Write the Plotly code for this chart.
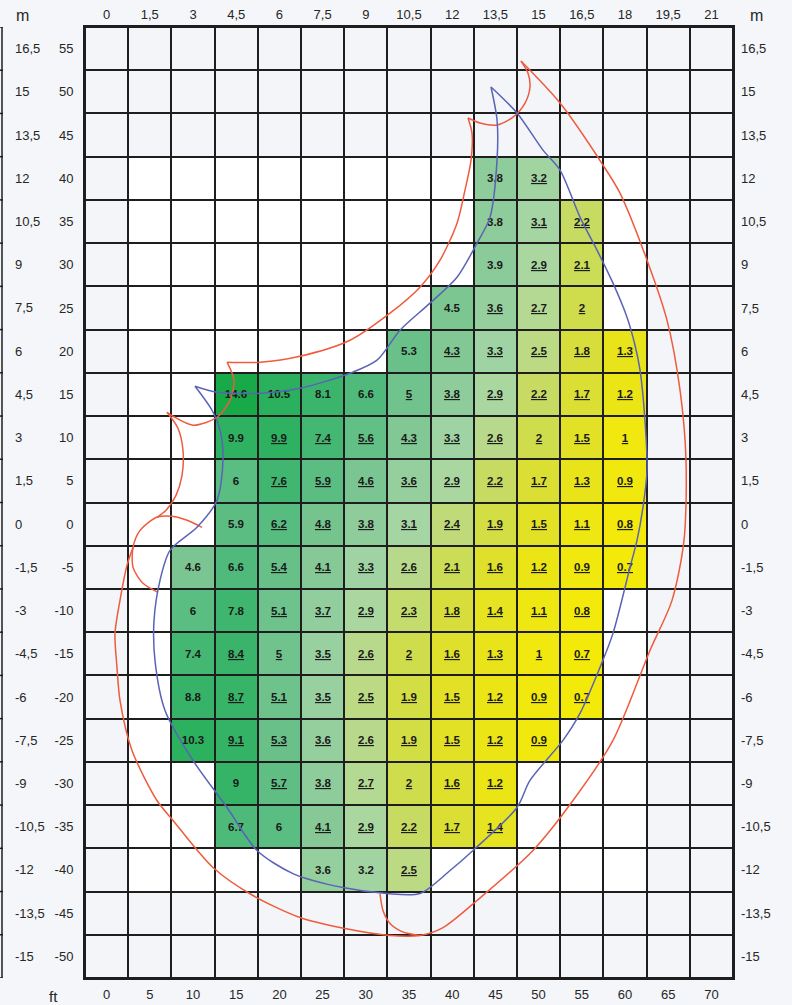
import plotly.graph_objects as go

# ---------------- data ----------------
ft_x = list(range(0, 75, 5))
m_x = ["0", "1,5", "3", "4,5", "6", "7,5", "9", "10,5", "12", "13,5", "15", "16,5", "18", "19,5", "21"]
ft_y = list(range(55, -55, -5))
m_y = ["16,5", "15", "13,5", "12", "10,5", "9", "7,5", "6", "4,5", "3", "1,5", "0",
       "-1,5", "-3", "-4,5", "-6", "-7,5", "-9", "-10,5", "-12", "-13,5", "-15"]

N = None
values = [
    [N] * 15,                                                              # 55
    [N] * 15,                                                              # 50
    [N] * 15,                                                              # 45
    [N] * 9 + [3.8, 3.2] + [N] * 4,                                        # 40
    [N] * 9 + [3.8, 3.1, 2.2] + [N] * 3,                                   # 35
    [N] * 9 + [3.9, 2.9, 2.1] + [N] * 3,                                   # 30
    [N] * 8 + [4.5, 3.6, 2.7, 2.0] + [N] * 3,                              # 25
    [N] * 7 + [5.3, 4.3, 3.3, 2.5, 1.8, 1.3] + [N] * 2,                    # 20
    [N] * 3 + [14.6, 10.5, 8.1, 6.6, 5.0, 3.8, 2.9, 2.2, 1.7, 1.2] + [N] * 2,  # 15
    [N] * 3 + [9.9, 9.9, 7.4, 5.6, 4.3, 3.3, 2.6, 2.0, 1.5, 1.0] + [N] * 2,    # 10
    [N] * 3 + [6.0, 7.6, 5.9, 4.6, 3.6, 2.9, 2.2, 1.7, 1.3, 0.9] + [N] * 2,    # 5
    [N] * 3 + [5.9, 6.2, 4.8, 3.8, 3.1, 2.4, 1.9, 1.5, 1.1, 0.8] + [N] * 2,    # 0
    [N] * 2 + [4.6, 6.6, 5.4, 4.1, 3.3, 2.6, 2.1, 1.6, 1.2, 0.9, 0.7] + [N] * 2,  # -5
    [N] * 2 + [6.0, 7.8, 5.1, 3.7, 2.9, 2.3, 1.8, 1.4, 1.1, 0.8] + [N] * 3,    # -10
    [N] * 2 + [7.4, 8.4, 5.0, 3.5, 2.6, 2.0, 1.6, 1.3, 1.0, 0.7] + [N] * 3,    # -15
    [N] * 2 + [8.8, 8.7, 5.1, 3.5, 2.5, 1.9, 1.5, 1.2, 0.9, 0.7] + [N] * 3,    # -20
    [N] * 2 + [10.3, 9.1, 5.3, 3.6, 2.6, 1.9, 1.5, 1.2, 0.9] + [N] * 4,        # -25
    [N] * 3 + [9.0, 5.7, 3.8, 2.7, 2.0, 1.6, 1.2] + [N] * 5,                  # -30
    [N] * 3 + [6.7, 6.0, 4.1, 2.9, 2.2, 1.7, 1.4] + [N] * 5,                  # -35
    [N] * 5 + [3.6, 3.2, 2.5] + [N] * 7,                                      # -40
    [N] * 15,                                                              # -45
    [N] * 15,                                                              # -50
]
# number of leading (non-underlined) values in each row
plain_count = {40: 1, 35: 1, 30: 1, 25: 1, 20: 1, 15: 4, 10: 1, 5: 1, 0: 1,
               -5: 2, -10: 2, -15: 1, -20: 1, -25: 1, -30: 1, -35: 2, -40: 2}

# colour scale (value -> colour)
scale_values = [0.7, 1.0, 1.3, 1.6, 2.0, 2.5, 2.9, 3.3, 3.8, 4.5, 5.5, 6.6, 8.0, 10.0, 14.6]
scale_colors = ["#f4ea0a", "#f0e80e", "#e9e41a", "#dfe02b", "#cfdc4c", "#bcda84", "#aad7a0",
                "#9fd3a3", "#8ecc9b", "#7cc692", "#64bf86", "#4fba7b", "#3cb56d", "#2db160", "#18aa48"]

# outlines (ft coordinates)
blue_outer = [(44.49, 50.56), (47.5, 47.55), (50.51, 43.26), (52.48, 40.95), (54.79, 35.51),
              (56.76, 31.69), (58.61, 27.87), (60.23, 23.94), (61.16, 20.69), (61.74, 17.80),
              (62.31, 12.01), (62.55, 6.23), (62.08, 1.94), (61.39, -1.88), (60.58, -5.0),
              (58.61, -12.64), (57.11, -16.57), (54.79, -21.90), (52.82, -25.02), (49.0, -29.65),
              (47.5, -32.78), (42.41, -37.75), (39.75, -40.07), (36.27, -42.73), (32.45, -42.73),
              (27.36, -42.04), (21.57, -40.42), (17.41, -37.75), (13.94, -32.78), (10.0, -27.34),
              (6.76, -21.55), (5.60, -15.76), (5.49, -11.13), (6.18, -6.50), (7.34, -3.03),
              (10.46, -0.37), (12.78, 2.75), (13.47, 7.38), (13.13, 10.86), (12.20, 13.17),
              (10.23, 15.95)]
blue_inner = [(10.23, 15.95), (12.78, 15.25), (17.75, 15.14), (22.38, 15.72), (28.17, 17.45),
              (31.30, 18.96), (33.96, 22.43), (37.43, 25.56), (40.56, 28.56), (42.87, 32.5),
              (44.38, 35.51), (45.19, 42.11), (45.19, 46.74), (44.49, 50.56)]

red_outer = [(47.96, 53.56), (52.48, 48.70), (57.45, 41.53), (59.42, 38.29), (62.55, 30.53),
             (64.86, 23.59), (66.37, 15.49), (67.06, 7.38), (66.83, -1.88), (65.44, -8.82),
             (62.89, -14.61), (58.61, -25.02), (53.98, -31.97), (49.35, -37.75), (42.87, -43.54),
             (38.94, -46.67), (36.27, -47.59), (32.80, -47.59), (27.59, -46.78), (22.38, -45.51),
             (16.94, -42.96), (12.31, -39.72), (7.69, -34.28), (5.83, -31.97), (2.94, -26.18),
             (1.55, -20.39), (1.20, -16.57), (0.97, -12.64), (1.55, -8.82), (2.36, -4.77),
             (3.06, -2.69)]
red_circle = [(11.04, -0.37), (9.31, 0.44), (7.57, 0.90), (5.83, 0.79), (3.87, -0.72),
              (3.06, -2.69), (3.06, -5.0), (4.21, -6.85), (5.95, -7.89)]
red_arc_a = [(6.99, 12.94), (8.26, 11.09), (8.84, 8.54), (8.73, 5.65), (8.03, 3.33),
             (6.88, 1.60), (5.83, 0.79)]
red_arc_b = [(6.99, 12.94), (7.69, 12.48), (10.0, 11.44), (12.78, 12.36), (14.28, 14.33),
             (14.75, 16.64), (13.94, 18.73)]
red_arc_c = [(13.94, 18.73), (17.75, 18.73), (22.38, 19.42), (28.17, 21.27), (32.80, 24.40),
             (36.27, 27.41), (38.59, 30.53), (40.56, 34.81), (41.48, 38.63), (42.18, 42.11),
             (42.29, 45.23), (41.83, 46.97)]
red_arc_d = [(41.83, 46.97), (43.22, 46.39), (45.19, 46.16), (47.04, 47.08), (48.43, 48.70),
             (49.0, 50.56), (48.77, 52.18), (47.96, 53.56)]
red_loop = [(31.64, -42.73), (31.99, -44.70), (32.80, -46.20), (34.19, -47.13), (36.27, -47.59)]

# ---------------- figure ----------------
W, H = 792, 1005
ML, MR, MT, MB = 85, 59, 27, 27
PW, PH = W - ML - MR, H - MT - MB
GRID = "#1e1e1e"
TXT = "#262626"
FONT = "Liberation Sans"
BG = "#f4f6f9"

zmin, zmax = scale_values[0], scale_values[-1]
colorscale = [[(v - zmin) / (zmax - zmin), c] for v, c in zip(scale_values, scale_colors)]

# white inner region vs faint outer cells
base = [[1 if (-40 <= yv <= 40 and 1 <= ci <= 12) else 0 for ci in range(15)] for yv in ft_y]

texts = []
for yv, row in zip(ft_y, values):
    trow = []
    first = next((i for i, v in enumerate(row) if v is not None), None)
    for ci, v in enumerate(row):
        if v is None:
            trow.append("")
            continue
        s = f"{v:g}"
        if ci - first >= plain_count.get(yv, 0):
            s = f"<u>{s}</u>"
        trow.append(f"<b>{s}</b>")
    texts.append(trow)

fig = go.Figure()
fig.add_trace(go.Heatmap(x=ft_x, y=ft_y, z=base, colorscale=[[0, "#f3f5f9"], [1, "#ffffff"]],
                         zmin=0, zmax=1, showscale=False, xgap=2, ygap=2, hoverinfo="skip"))
fig.add_trace(go.Heatmap(x=ft_x, y=ft_y, z=values, text=texts, texttemplate="%{text}",
                         textfont=dict(family=FONT, size=11.5, color="#1a1a1a"),
                         colorscale=colorscale, zmin=zmin, zmax=zmax, showscale=False,
                         xgap=2, ygap=2, hoverinfo="skip"))


def add_line(pts, color):
    fig.add_trace(go.Scatter(x=[p[0] for p in pts], y=[p[1] for p in pts], mode="lines",
                             line=dict(color=color, width=1.5, shape="spline", smoothing=0.8),
                             hoverinfo="skip", showlegend=False))


RED = "#ef5b3d"
BLUE = "#5a63b6"
for seg in (red_outer, red_circle, red_arc_a, red_arc_b, red_arc_c, red_arc_d, red_loop):
    add_line(seg, RED)
for seg in (blue_outer, blue_inner):
    add_line(seg, BLUE)

# helper traces so secondary axes render
fig.add_trace(go.Scatter(x=[ft_x[0]], y=[ft_y[0]], xaxis="x2", yaxis="y2", mode="markers",
                         marker=dict(opacity=0), hoverinfo="skip", showlegend=False))

xr = [ft_x[0] - 2.5, ft_x[-1] + 2.5]
yr = [ft_y[-1] - 2.5, ft_y[0] + 2.5]
tick_font = dict(family=FONT, size=13, color=TXT)
common = dict(showgrid=False, zeroline=False, ticks="", tickfont=tick_font, automargin=False)

fig.update_layout(
    width=W, height=H, margin=dict(l=ML, r=MR, t=MT, b=MB, autoexpand=False),
    paper_bgcolor=BG, plot_bgcolor=GRID, showlegend=False,
    xaxis=dict(range=xr, tickvals=ft_x, ticktext=[str(v) for v in ft_x], side="bottom",
               showline=True, mirror=True, linecolor=GRID, linewidth=2, ticklabelstandoff=3, **common),
    xaxis2=dict(range=xr, tickvals=ft_x, ticktext=m_x, side="top", overlaying="x",
                ticklabelstandoff=4, **common),
    yaxis=dict(range=yr, tickvals=ft_y, ticktext=[str(v) for v in ft_y], side="left",
               showline=True, mirror=True, linecolor=GRID, linewidth=2, ticklabelstandoff=7, **common),
    yaxis2=dict(range=yr, tickvals=ft_y, ticktext=m_y, side="right", overlaying="y",
                ticklabelstandoff=7, **common),
)

annotations = []
for yv, lab in zip(ft_y, m_y):
    annotations.append(dict(x=(13 - ML) / PW, xref="paper", y=yv, yref="y", text=lab,
                            showarrow=False, xanchor="left", yanchor="middle", font=tick_font))
annotations.append(dict(x=(22 - ML) / PW, xref="paper", y=1 + (MT - 15) / PH, yref="paper", text="m",
                        showarrow=False, xanchor="center", yanchor="middle",
                        font=dict(family=FONT, size=16, color=TXT)))
annotations.append(dict(x=(756 - ML) / PW, xref="paper", y=1 + (MT - 15) / PH, yref="paper", text="m",
                        showarrow=False, xanchor="center", yanchor="middle",
                        font=dict(family=FONT, size=16, color=TXT)))
annotations.append(dict(x=(53 - ML) / PW, xref="paper", y=-(996 - (H - MB)) / PH, yref="paper", text="ft",
                        showarrow=False, xanchor="center", yanchor="middle",
                        font=dict(family=FONT, size=15, color=TXT)))
fig.update_layout(annotations=annotations)

# thin frame line at the far left with row ticks
shapes = [dict(type="line", xref="paper", yref="paper", x0=(2 - ML) / PW, x1=(2 - ML) / PW,
               y0=0, y1=1, line=dict(color=GRID, width=1.5))]
for k in range(len(ft_y) + 1):
    yy = ft_y[0] + 2.5 - 5 * k
    shapes.append(dict(type="line", xref="paper", yref="y", x0=(0 - ML) / PW, x1=(3 - ML) / PW,
                       y0=yy, y1=yy, line=dict(color=GRID, width=1.5)))
fig.update_layout(shapes=shapes)

fig.write_html("out.html", config={"displayModeBar": False},
               post_script=f"document.body.style.margin='0';document.body.style.background='{BG}';")
